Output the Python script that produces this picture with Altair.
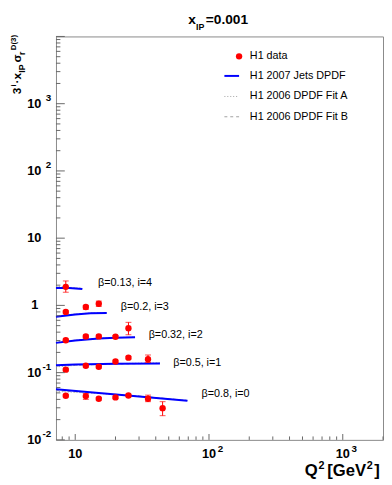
import altair as alt
import pandas as pd

FONT = "Liberation Sans"

# ---------------- data ----------------
BETAS = ["0.13", "0.2", "0.32", "0.5", "0.8"]
BETA_LABELS = ["β=0.13, i=4", "β=0.2, i=3", "β=0.32, i=2", "β=0.5, i=1", "β=0.8, i=0"]
LABEL_Q = [14.8, 21.9, 35.4, 54, 87.9]
LABEL_V = [2.14, 0.947, 0.366, 0.137, 0.0473]

DATA_Q = [
    [8.5],
    [8.5, 12, 15],
    [8.5, 12, 15, 20, 25],
    [8.5, 12, 15, 20, 25, 35],
    [8.5, 12, 15, 20, 25, 35, 45],
]
DATA_V = [
    [1.89],
    [0.80, 0.947, 1.057],
    [0.303, 0.346, 0.346, 0.342, 0.457],
    [0.1107, 0.1267, 0.1225, 0.1463, 0.167, 0.158],
    [0.0453, 0.0448, 0.0409, 0.0428, 0.0457, 0.0409, 0.0296],
]
DATA_LO = [
    [1.57],
    [0.77, 0.873, 0.966],
    [0.29, 0.33, 0.33, 0.327, 0.366],
    [0.106, 0.121, 0.117, 0.140, 0.160, 0.1415],
    [0.0435, 0.040, 0.039, 0.041, 0.0438, 0.037, 0.0229],
]
DATA_HI = [
    [2.31],
    [0.83, 1.0, 1.16],
    [0.317, 0.362, 0.362, 0.357, 0.56],
    [0.116, 0.132, 0.128, 0.153, 0.175, 0.183],
    [0.0472, 0.0489, 0.0428, 0.0447, 0.0477, 0.0463, 0.037],
]

CURVE_Q = [
    [7.18, 9, 11.3],
    [7.18, 10, 13, 17.2],
    [7.18, 10, 15, 20, 28],
    [7.18, 10, 20, 43],
    [7.18, 15, 30, 69],
]
JETS = [
    [1.81, 1.82, 1.75],
    [0.678, 0.731, 0.764, 0.769],
    [0.277, 0.301, 0.322, 0.330, 0.335],
    [0.129, 0.132, 0.1355, 0.137],
    [0.0566, 0.0499, 0.0442, 0.0383],
]
FIT_A = [
    [1.92, 1.86, 1.80],
    [0.70, 0.745, 0.77, 0.775],
    [0.285, 0.305, 0.325, 0.333, 0.338],
    [0.122, 0.128, 0.136, 0.140],
    [0.0525, 0.049, 0.0448, 0.0385],
]
FIT_B = [
    [1.88, 1.83, 1.78],
    [0.69, 0.74, 0.765, 0.77],
    [0.28, 0.302, 0.322, 0.331, 0.336],
    [0.125, 0.129, 0.134, 0.138],
    [0.054, 0.0495, 0.045, 0.0385],
]

Y_TICKS = [0.01, 0.1, 1, 10, 100, 1000]
Y_BASE = ["10", "10", "1", "10", "10", "10"]
Y_EXP = ["-2", "-1", "", "", "2", "3"]
X_TICKS = [10, 100, 1000]
X_BASE = ["10", "10", "10"]
X_EXP = ["", "2", "3"]

LEGEND = ["H1 data", "H1 2007 Jets DPDF", "H1 2006 DPDF Fit A", "H1 2006 DPDF Fit B"]

# ---------------- tables ----------------
pts = pd.DataFrame([
    dict(beta=b, q=q, v=v, lo=lo, hi=hi)
    for b, qs, vs, los, his in zip(BETAS, DATA_Q, DATA_V, DATA_LO, DATA_HI)
    for q, v, lo, hi in zip(qs, vs, los, his)
])
curves = pd.DataFrame([
    dict(beta=b, q=q, jets=j, fa=a, fb=fb)
    for b, qs, js, As, Bs in zip(BETAS, CURVE_Q, JETS, FIT_A, FIT_B)
    for q, j, a, fb in zip(qs, js, As, Bs)
])
labels = pd.DataFrame(dict(text=BETA_LABELS, q=LABEL_Q, v=LABEL_V))

y_major = pd.DataFrame(dict(v=[10.0 ** e for e in range(-2, 5)]))
y_minor = pd.DataFrame(dict(v=[m * 10.0 ** e for e in range(-2, 4) for m in range(2, 10)]))
x_major = pd.DataFrame(dict(v=[10.0, 100.0, 1000.0]))
x_minor = pd.DataFrame(dict(v=[m * 10.0 ** e for e in range(0, 4) for m in range(2, 10)
                               if 7.18 <= m * 10.0 ** e <= 2000]))
ylab = pd.DataFrame(dict(v=Y_TICKS, base=Y_BASE, exp=Y_EXP))
xlab = pd.DataFrame(dict(v=X_TICKS, base=X_BASE, exp=X_EXP))

W, H = 334, 412
xs = alt.Scale(type="log", domain=[7.18, 2000], nice=False)
ys = alt.Scale(type="log", domain=[0.01, 10000], nice=False)
X = lambda f: alt.X(f, scale=xs, axis=None)
Y = lambda f: alt.Y(f, scale=ys, axis=None)
one = pd.DataFrame(dict(a=[0]))

layers = []

# model curves
layers.append(alt.Chart(curves).mark_line(color="#a0a0a0", strokeWidth=1, strokeDash=[1, 2]).encode(
    x=X("q:Q"), y=Y("fa:Q"), detail="beta:N"))
layers.append(alt.Chart(curves).mark_line(color="#a0a0a0", strokeWidth=1, strokeDash=[3, 3]).encode(
    x=X("q:Q"), y=Y("fb:Q"), detail="beta:N"))
layers.append(alt.Chart(curves).mark_line(color="#0000ff", strokeWidth=2).encode(
    x=X("q:Q"), y=Y("jets:Q"), detail="beta:N"))

# error bars
layers.append(alt.Chart(pts).mark_rule(color="#ff0000", strokeWidth=1).encode(
    x=X("q:Q"), y=Y("lo:Q"), y2="hi:Q"))
layers.append(alt.Chart(pts).mark_tick(color="#ff0000", orient="horizontal", size=6, thickness=1).encode(
    x=X("q:Q"), y=Y("lo:Q")))
layers.append(alt.Chart(pts).mark_tick(color="#ff0000", orient="horizontal", size=6, thickness=1).encode(
    x=X("q:Q"), y=Y("hi:Q")))
# points
layers.append(alt.Chart(pts).mark_circle(color="#ff0000", size=42, opacity=1).encode(
    x=X("q:Q"), y=Y("v:Q")))

# beta labels
layers.append(alt.Chart(labels).mark_text(align="left", baseline="middle", font=FONT, fontSize=11,
                                          color="black").encode(
    x=X("q:Q"), y=Y("v:Q"), text="text:N"))

# ticks (inside)
TICK = "#666666"
layers.append(alt.Chart(y_major).mark_rule(color=TICK, strokeWidth=1).encode(
    y=Y("v:Q"), x=alt.value(0), x2=alt.value(9)))
layers.append(alt.Chart(y_minor).mark_rule(color=TICK, strokeWidth=1).encode(
    y=Y("v:Q"), x=alt.value(0), x2=alt.value(4.5)))
layers.append(alt.Chart(x_major).mark_rule(color=TICK, strokeWidth=1).encode(
    x=X("v:Q"), y=alt.value(H), y2=alt.value(H - 6)))
layers.append(alt.Chart(x_minor).mark_rule(color=TICK, strokeWidth=1).encode(
    x=X("v:Q"), y=alt.value(H), y2=alt.value(H - 3.5)))

# tick labels
lab = dict(font=FONT, fontWeight="bold", color="black")
layers.append(alt.Chart(ylab).transform_filter("datum.base == '10'").mark_text(
    align="right", baseline="middle", fontSize=13, **lab).encode(
    y=Y("v:Q"), x=alt.value(-15), text="base:N"))
layers.append(alt.Chart(ylab).transform_filter("datum.base == '1'").mark_text(
    align="right", baseline="middle", fontSize=13, **lab).encode(
    y=Y("v:Q"), x=alt.value(-18), text="base:N"))
layers.append(alt.Chart(ylab).mark_text(
    align="right", baseline="middle", fontSize=10, dy=-6, **lab).encode(
    y=Y("v:Q"), x=alt.value(-5), text="exp:N"))
layers.append(alt.Chart(xlab).mark_text(
    align="center", baseline="middle", fontSize=13, **lab).encode(
    x=X("v:Q"), y=alt.value(H + 15), text="base:N"))
layers.append(alt.Chart(xlab).mark_text(
    align="left", baseline="middle", fontSize=10, dx=9, **lab).encode(
    x=X("v:Q"), y=alt.value(H + 9), text="exp:N"))

# helper for free text pieces
def txt(t, x, y, size, weight="bold", angle=0, align="left"):
    kw = dict(align=align, baseline="alphabetic", font=FONT, fontSize=size,
              fontWeight=weight, color="black")
    if angle:
        kw["angle"] = angle
    return alt.Chart(one).mark_text(text=t, **kw).encode(x=alt.value(x), y=alt.value(y))

# title
layers += [
    txt("x", 135, -13, 14),
    txt("IP", 143, -7, 9),
    txt("=0.001", 153, -13, 14),
]
# y title (rotated, reads bottom to top)
layers += [
    txt("3", -36, 59, 12, angle=270),
    txt("i", -40.5, 51, 8, angle=270),
    txt("·x", -36, 48, 12, angle=270),
    txt("IP", -32, 37, 9, angle=270),
    txt("σ", -36, 26.5, 12, angle=270),
    txt("r", -32, 19, 9, angle=270),
    txt("D(3)", -40.5, 14, 8, angle=270),
]
# x title
layers += [
    txt("Q", 254, 449, 17),
    txt("2", 268, 442, 11),
    txt("[GeV", 277, 449, 17),
    txt("2", 317.5, 442, 11),
    txt("]", 325, 449, 17),
]

# legend
LX0, LX1, LT = 172, 187, 198
LY = [20.3, 40.3, 61.3, 82]
layers.append(alt.Chart(one).mark_circle(color="#ff0000", size=42, opacity=1).encode(
    x=alt.value(LX1), y=alt.value(LY[0])))
layers.append(alt.Chart(one).mark_rule(color="#0000ff", strokeWidth=2).encode(
    x=alt.value(LX0), x2=alt.value(LX1), y=alt.value(LY[1])))
layers.append(alt.Chart(one).mark_rule(color="#a0a0a0", strokeWidth=1, strokeDash=[1, 2]).encode(
    x=alt.value(LX0), x2=alt.value(LX1), y=alt.value(LY[2])))
layers.append(alt.Chart(one).mark_rule(color="#a0a0a0", strokeWidth=1, strokeDash=[3, 3]).encode(
    x=alt.value(LX0), x2=alt.value(LX1), y=alt.value(LY[3])))
for t, yy in zip(LEGEND, LY):
    layers.append(alt.Chart(one).mark_text(text=t, align="left", baseline="middle", font=FONT,
                                           fontSize=11, color="black").encode(
        x=alt.value(LT), y=alt.value(yy)))

chart = alt.layer(*layers).properties(
    width=W, height=H,
    padding={"left": 49, "top": 24, "right": 1, "bottom": 40},
    autosize=alt.AutoSizeParams(type="none"),
).configure_view(stroke="#888888", strokeWidth=1)

chart.save("out.html", embed_options={"renderer": "svg", "actions": False})
